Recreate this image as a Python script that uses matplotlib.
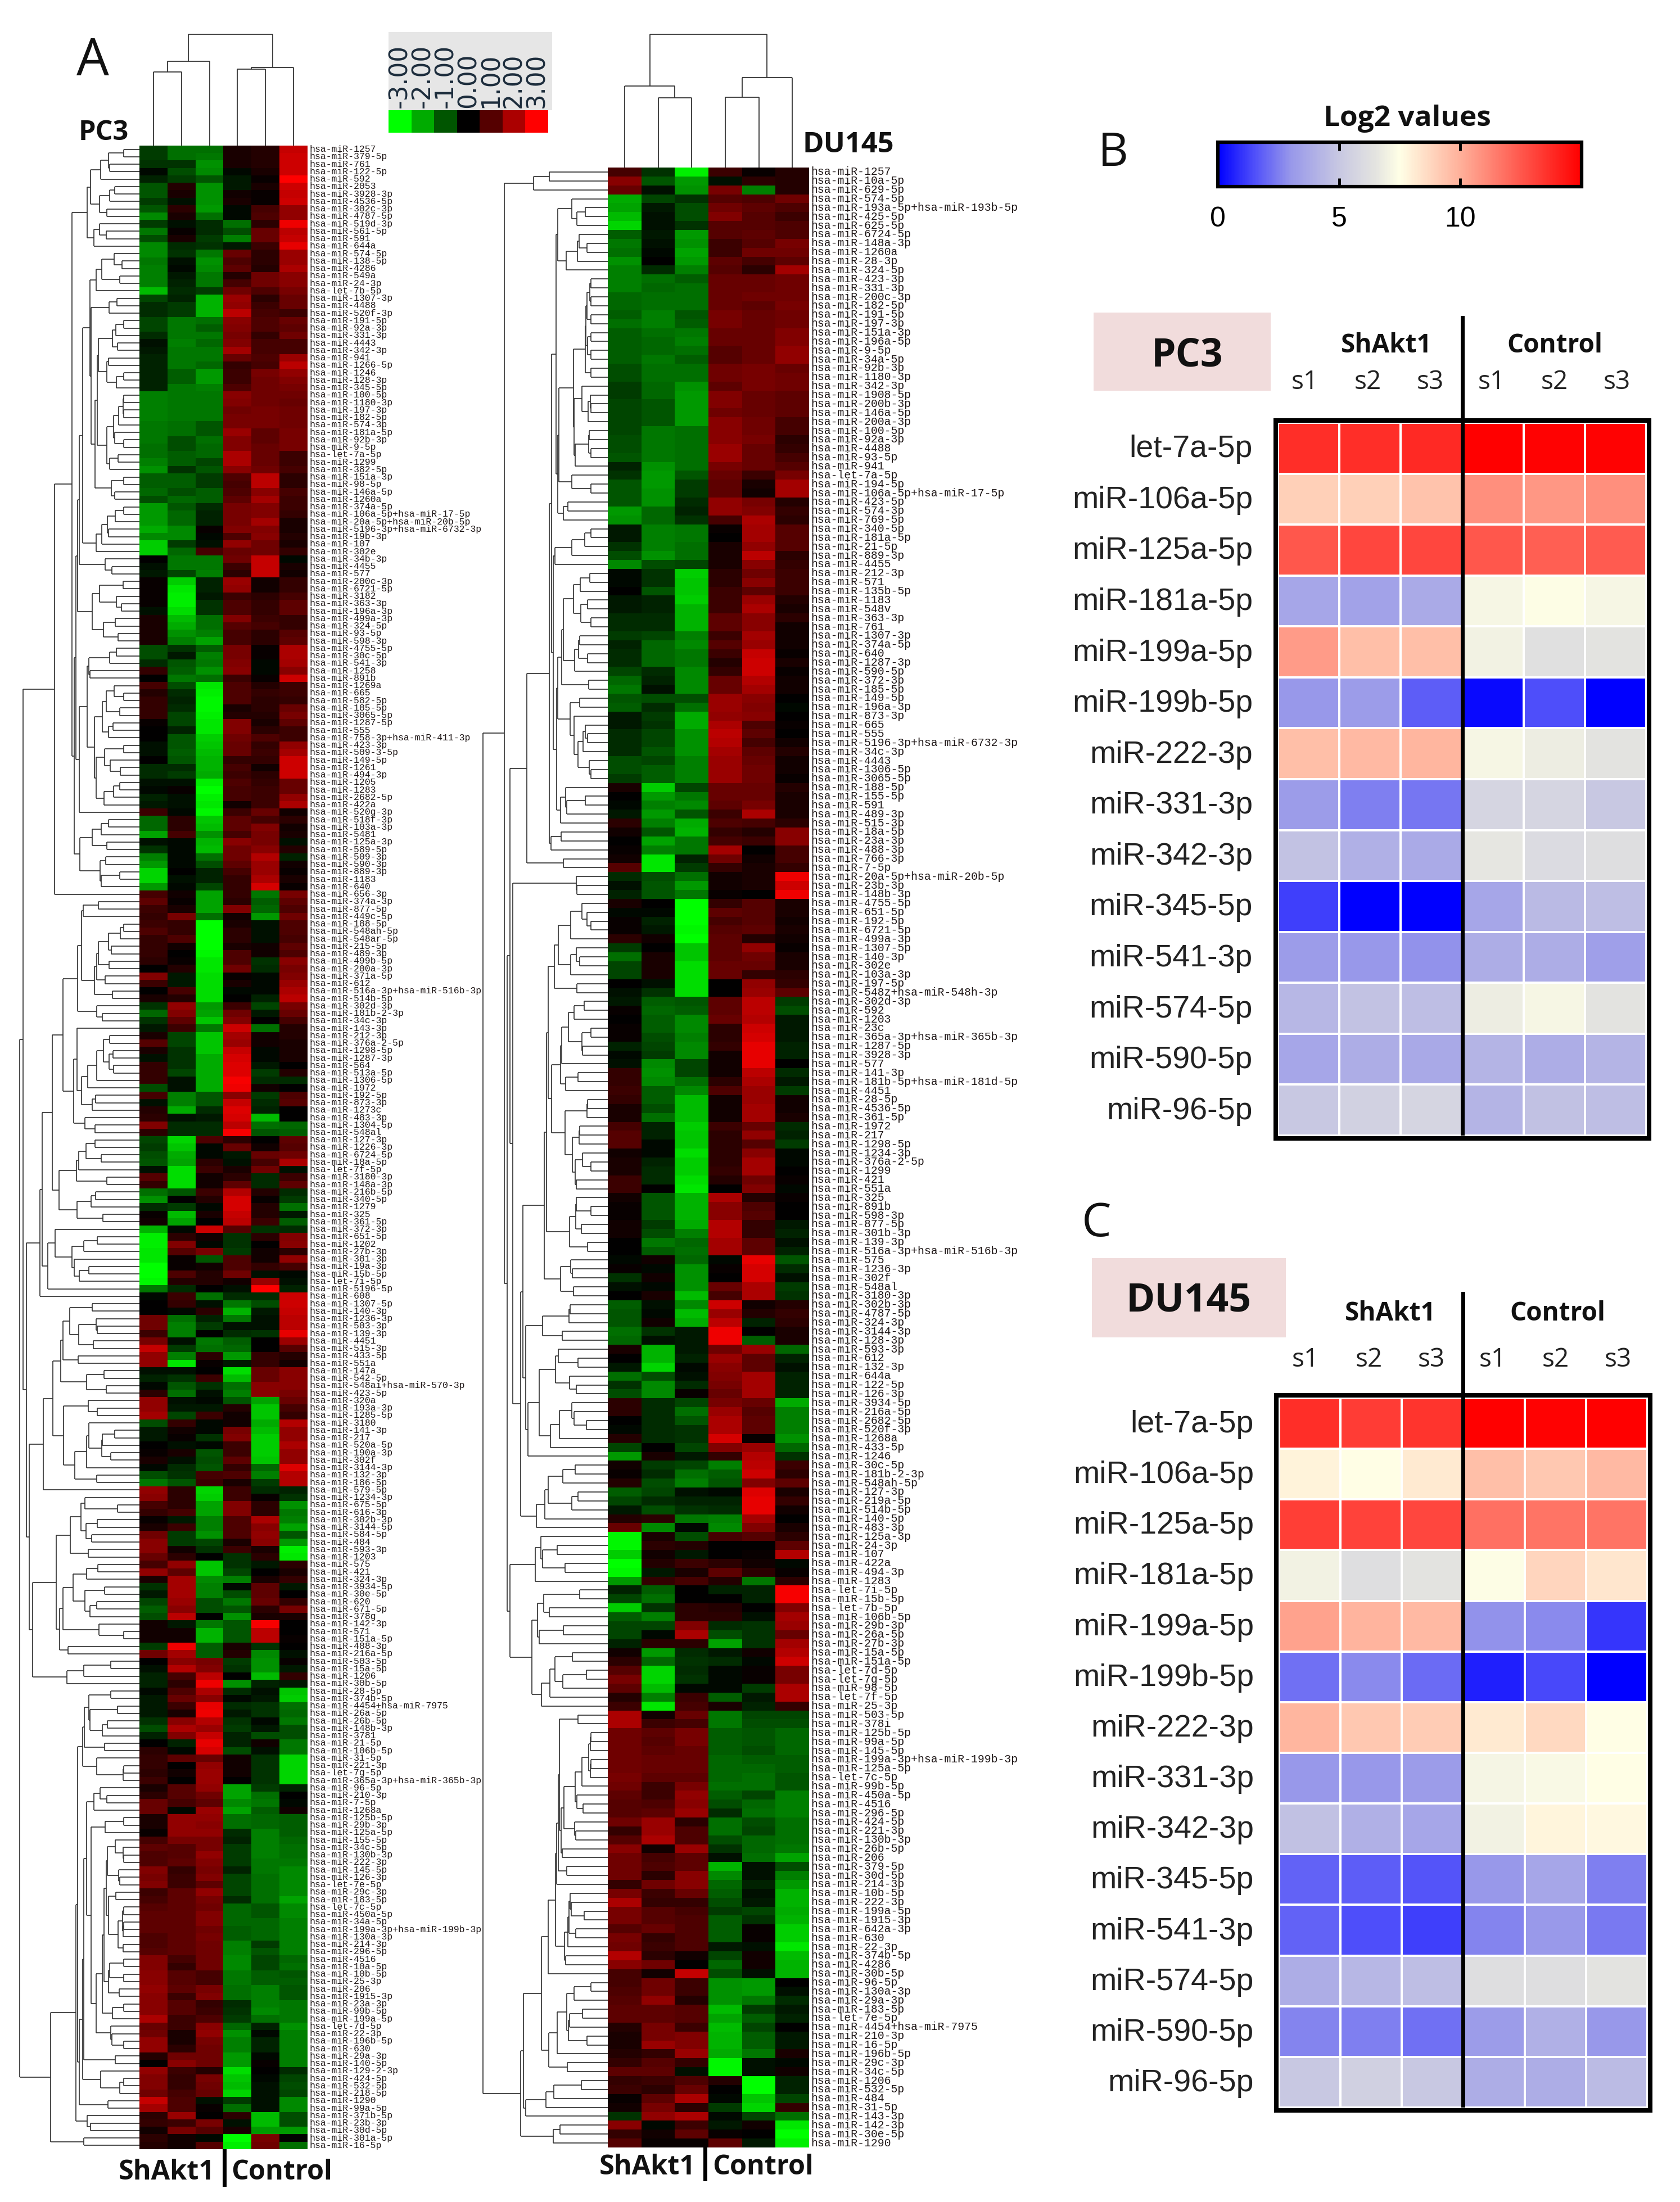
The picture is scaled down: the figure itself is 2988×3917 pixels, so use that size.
import numpy as np
import matplotlib
matplotlib.use("Agg")
import matplotlib.pyplot as plt
from matplotlib.colors import LinearSegmentedColormap, Normalize
from matplotlib.collections import LineCollection
from matplotlib.patches import Rectangle
from matplotlib.cm import ScalarMappable

W, H = 2988, 3917

pc3_labels = """1257 379-5p 761 122-5p 592 2053 3928-3p 4536-5p 302c-3p 4787-5p 519d-3p 561-5p 591 644a 574-5p 138-5p 4286 549a 24-3p let-7b-5p
1307-3p 4488 520f-3p 191-5p 92a-3p 331-3p 4443 342-3p 941 1266-5p 1246 128-3p 345-5p 100-5p 1180-3p 197-3p 182-5p 574-3p 181a-5p 92b-3p
9-5p let-7a-5p 1299 382-5p 151a-3p 98-5p 146a-5p 1260a 374a-5p 106a-5p+hsa-miR-17-5p 20a-5p+hsa-miR-20b-5p 5196-3p+hsa-miR-6732-3p 19b-3p 107 302e 34b-3p 4455 577 200c-3p 6721-5p
3182 363-3p 196a-3p 499a-3p 324-5p 93-5p 598-3p 4755-5p 30c-5p 541-3p 1258 891b 1269a 665 582-5p 185-5p 3065-5p 1287-5p 555 758-3p+hsa-miR-411-3p
423-3p 509-3-5p 149-5p 1261 494-3p 1205 1283 2682-5p 422a 520g-3p 518f-3p 103a-3p 5481 125a-3p 589-5p 509-3p 590-3p 889-3p 1183 640
656-3p 374a-3p 877-5p 449c-5p 188-5p 548ah-5p 548ar-5p 215-5p 489-3p 499b-5p 200a-3p 371a-5p 612 516a-3p+hsa-miR-516b-3p 514b-5p 302d-3p 181b-2-3p 34c-3p 143-3p 212-3p
376a-2-5p 1298-5p 1287-3p 564 513a-5p 1306-5p 1972 192-5p 873-3p 1273c 483-3p 1304-5p 548al 127-3p 1226-3p 6724-5p 18a-5p let-7f-5p 3180-3p 148a-3p
216b-5p 340-5p 1279 325 361-5p 372-3p 651-5p 1202 27b-3p 381-3p 19a-3p 15b-5p let-7i-5p 5196-5p 608 1307-5p 140-3p 1236-3p 503-3p 139-3p
4451 515-3p 433-5p 551a 147a 542-5p 548ai+hsa-miR-570-3p 423-5p 320a 193a-3p 1285-5p 3180 141-3p 217 520a-5p 190a-3p 302f 3144-3p 132-3p 186-5p
579-5p 1234-3p 675-5p 616-3p 302b-3p 3144-5p 584-5p 484 593-3p 1203 575 421 324-3p 3934-5p 30e-5p 620 671-5p 378g 142-3p 571
151a-5p 488-3p 216a-5p 503-5p 15a-5p 1206 30b-5p 28-5p 374b-5p 4454+hsa-miR-7975 26a-5p 26b-5p 148b-3p 3781 21-5p 106b-5p 31-5p 221-3p let-7g-5p 365a-3p+hsa-miR-365b-3p
96-5p 210-3p 7-5p 1268a 125b-5p 29b-3p 125a-5p 155-5p 34c-5p 130b-3p 222-3p 145-5p 126-3p let-7e-5p 29c-3p 183-5p let-7c-5p 450a-5p 34a-5p 199a-3p+hsa-miR-199b-3p
130a-3p 214-3p 296-5p 4516 10a-5p 10b-5p 25-3p 206 1915-3p 23a-3p 99b-5p 199a-5p let-7d-5p 22-3p 196b-5p 630 29a-3p 140-5p 129-2-3p 424-5p
532-5p 218-5p 1290 99a-5p 371b-5p 23b-3p 30d-5p 301a-5p 16-5p""".split()

pc3_values = [
[-7,-13,-13,3,4,23],[-7,-13,-14,3,4,24],[-6,-6,-17,3,4,24],[-1,-9,-16,-1,3,24],[-4,-7,-10,-3,1,30],[-10,4,-17,-3,3,24],[-10,3,-17,2,1,23],[-7,-2,-17,3,1,24],[-10,5,-18,-1,8,17],[-16,3,-13,-1,9,17],
[-7,-2,-5,-13,5,28],[-14,1,-5,-9,12,22],[-9,3,-7,-15,12,23],[-16,-5,-6,-3,7,27],[-16,-6,-14,12,5,18],[-14,-2,-17,9,5,18],[-15,-1,-16,11,4,20],[-15,-3,-14,4,13,16],[-15,-4,-14,8,13,16],[-22,-5,-7,13,9,14],
[-8,-4,-21,18,5,12],[-5,-7,-21,17,7,12],[-5,-7,-21,22,8,7],[-8,-14,-13,16,9,12],[-8,-14,-11,15,9,11],[-5,-14,-14,14,6,13],[-2,-15,-12,15,8,8],[-3,-14,-14,19,8,8],[-4,-14,-14,12,9,18],[-4,-14,-12,6,8,22],
[-4,-11,-18,7,14,17],[-4,-11,-18,7,13,15],[-4,-14,-15,9,13,14],[-15,-14,-14,16,13,13],[-15,-14,-14,15,13,12],[-15,-14,-14,13,14,13],[-15,-14,-14,14,14,13],[-14,-13,-10,14,14,13],[-14,-13,-10,18,11,14],[-14,-9,-13,15,11,14],
[-13,-9,-12,15,12,14],[-13,-11,-12,20,12,7],[-15,-11,-8,20,12,7],[-17,-6,-10,16,13,8],[-11,-11,-7,9,22,5],[-11,-11,-7,8,22,5],[-12,-9,-11,9,16,8],[-9,-12,-11,11,19,7],[-18,-10,-5,14,15,7],[-18,-12,-4,14,15,6],
[-18,-12,-4,14,19,3],[-20,-16,1,15,15,3],[-16,-16,-1,9,16,4],[-24,-7,-2,17,13,3],[-24,-12,8,12,13,6],[0,-14,-14,13,23,-1],[-2,-14,-14,7,23,3],[-3,-8,-15,5,23,2],[1,-24,-4,18,2,6],[1,-27,-4,17,2,6],
[1,-28,-3,7,5,8],[1,-28,-6,9,6,11],[-2,-26,-6,9,6,11],[3,-22,-13,15,7,6],[3,-20,-13,10,8,6],[3,-17,-15,8,5,10],[3,-15,-19,8,5,11],[-9,-6,-11,14,1,20],[-9,-3,-15,14,1,20],[-5,-10,-14,15,-1,19],
[6,-11,-17,16,-1,16],[0,-14,-13,7,1,24],[8,-9,-27,9,4,7],[4,-5,-28,9,6,7],[6,-4,-29,9,5,6],[6,-5,-29,3,5,12],[6,-8,-28,4,4,14],[1,-8,-27,15,3,11],[0,-4,-27,15,5,7],[0,-10,-24,13,9,7],
[-2,-10,-23,12,6,17],[-2,-11,-22,12,7,19],[0,-10,-21,6,6,24],[-5,-5,-21,8,2,24],[-5,-7,-20,7,5,24],[-2,-2,-28,9,6,12],[-1,1,-30,8,7,12],[-4,-2,-28,8,7,17],[-3,-2,-27,2,7,20],[7,-1,-29,7,12,2],
[-12,5,-23,11,8,5],[-12,5,-22,11,15,2],[-19,8,-17,8,14,3],[-2,-1,-21,16,14,-2],[-6,-1,-22,13,16,4],[-15,-1,-13,13,21,-4],[-18,-1,-9,11,18,2],[-25,0,-4,8,18,1],[-25,-2,-4,6,20,3],[-18,-1,-8,6,25,1],
[8,2,-19,6,-14,14],[11,1,-19,5,-11,11],[7,3,-19,15,-12,9],[6,14,-13,2,-18,13],[7,6,-30,3,-2,9],[9,6,-30,5,-2,9],[6,9,-30,5,-2,8],[6,2,-30,3,2,11],[6,0,-29,9,2,9],[5,1,-27,9,-6,16],
[0,4,-27,13,-5,14],[15,-3,-26,1,-1,15],[7,-3,-26,3,-1,18],[0,8,-26,-1,-1,20],[3,4,-26,0,-4,22],[-6,17,-18,7,-8,14],[-12,15,-19,13,-3,12],[-6,11,-23,15,0,8],[-3,7,-14,24,-13,4],[3,-8,-23,19,2,4],
[10,-8,-23,18,2,3],[3,-6,-23,23,-1,3],[-2,-6,-20,25,-1,3],[6,-6,-20,26,-3,0],[6,-8,-20,26,-7,4],[6,-2,-20,29,-5,-5],[-9,-2,-20,28,2,0],[8,-15,-10,16,-7,9],[-2,-15,-10,23,-5,10],[4,-20,-5,26,-4,0],
[5,-2,-3,25,-22,0],[15,-5,-5,22,-13,-12],[5,-5,-5,29,-10,-11],[-8,-25,9,5,0,11],[-7,-23,-1,12,2,10],[-9,-20,-1,-3,12,13],[-10,-19,5,-2,8,20],[-2,-26,7,3,13,-2],[10,-26,2,5,-5,7],[6,-26,2,11,-5,11],
[-13,-10,7,21,4,-5],[-17,0,4,25,1,-7],[-5,-7,-1,25,4,-13],[1,-22,3,23,4,-3],[2,-19,0,22,7,-11],[-21,-1,24,10,-6,-5],[-28,5,2,-6,5,15],[-28,15,-1,-6,0,16],[-27,10,14,-7,2,5],[-27,1,-10,9,2,17],
[-30,1,2,9,6,8],[-30,9,4,13,-2,-1],[-29,4,4,2,18,-2],[-14,-5,0,-2,30,-4],[-1,7,-13,-5,-5,24],[0,6,-2,-14,-9,24],[0,-1,5,-21,-3,23],[13,-13,-4,-14,-2,22],[13,-15,-7,-2,-2,22],[7,-15,0,-5,-6,27],
[14,-2,-14,-11,0,18],[23,-7,-13,-12,0,10],[17,-15,5,-18,6,4],[17,-27,1,-3,6,2],[-2,-2,0,-26,12,16],[-4,-6,7,-22,12,16],[-1,-10,-6,-13,16,16],[5,-13,-2,-15,16,14],[17,-2,-1,-10,-19,12],[17,-3,-3,4,-23,8],
[19,-8,7,2,-23,6],[-9,6,-1,2,-20,21],[-3,2,-1,14,-22,17],[-3,1,-6,15,-24,17],[0,-2,-1,7,-24,20],[1,3,-10,7,-24,17],[3,-2,-9,11,-23,17],[-1,-5,-10,6,-12,26],[-9,-6,8,9,-15,21],[-14,-10,7,3,-7,21],
[17,5,-25,7,-5,-4],[16,5,-24,7,1,-6],[8,5,-19,15,5,-17],[6,8,-19,15,5,-14],[1,-3,-15,9,20,-15],[3,7,-15,9,16,-19],[13,-7,-17,9,17,-10],[16,-7,-8,3,16,-18],[16,2,-6,7,3,-28],[12,5,0,-6,5,-27],
[8,17,-23,-6,-3,5],[17,11,-23,-8,0,3],[3,19,-16,-15,3,6],[-6,19,-15,-1,11,-3],[-3,19,-15,-9,11,0],[-8,18,-9,-14,12,6],[-11,16,-9,-10,5,14],[-9,22,0,-17,3,3],[2,-3,-14,-10,29,0],[2,2,-21,-10,22,0],
[2,2,-21,-10,22,1],[-7,28,-11,3,-6,0],[13,19,-11,4,-16,-2],[0,16,14,-7,-17,1],[-2,21,15,-6,-17,-3],[-4,8,22,0,-22,6],[-4,5,28,-17,-4,-3],[-1,9,20,-5,-2,-23],[-3,12,16,-1,-3,-24],[-3,7,27,-5,-6,-13],
[-3,3,28,-3,-6,-12],[-6,16,21,-6,-1,-14],[-9,20,18,-7,-3,-9],[-4,15,23,-4,-9,-9],[0,-4,27,-4,2,-14],[5,-1,25,-9,-2,-14],[6,11,12,2,-6,-25],[6,0,17,2,-6,-25],[5,2,18,2,-6,-25],[7,0,18,0,-6,-25],
[3,10,17,-19,-7,-4],[5,10,13,-19,-13,0],[12,8,11,-16,-14,-1],[12,-1,18,-19,-11,2],[3,17,17,-13,-12,-11],[3,17,16,-13,-12,-11],[1,17,17,-5,-15,-11],[8,14,14,-4,-15,-12],[11,10,14,-7,-15,-13],[9,10,17,-7,-15,-13],
[9,11,15,-7,-14,-14],[15,6,14,-4,-14,-16],[14,7,15,-8,-13,-16],[15,7,11,-8,-13,-16],[7,11,17,-8,-13,-16],[8,11,14,-5,-13,-19],[10,11,13,-12,-10,-16],[11,11,15,-12,-10,-16],[11,11,15,-12,-12,-15],[11,11,13,-11,-12,-15],
[9,11,14,-11,-12,-15],[9,11,13,-15,-7,-15],[10,11,13,-15,-10,-15],[15,8,13,-16,-8,-12],[15,6,13,-16,-8,-13],[16,10,8,-14,-11,-10],[16,10,8,-14,-11,-11],[17,11,14,-13,-15,-10],[16,7,15,-13,-15,-10],[16,10,6,-5,-15,-14],
[16,10,7,-6,-16,-14],[20,7,9,-7,-13,-14],[12,7,16,-12,-4,-17],[13,3,17,-17,-1,-15],[17,3,14,-15,-4,-15],[17,5,13,-15,-4,-15],[4,13,13,-18,-1,-15],[0,16,13,-18,1,-15],[17,7,4,-26,0,-5],[15,6,14,-23,-1,-8],
[15,6,13,-22,-2,-9],[13,8,12,-25,-2,-8],[23,9,-2,-7,-2,-16],[19,9,1,-13,-2,-16],[5,18,0,5,-22,-9],[6,7,14,-2,-22,-9],[2,14,10,3,-18,-18],[5,2,-1,-30,14,0],[4,2,10,-28,13,-13],
]

du_labels = """1257 10a-5p 629-5p 574-5p 193a-5p+hsa-miR-193b-5p 425-5p 625-5p 6724-5p 148a-3p 1260a 28-3p 324-5p 423-3p 331-3p 200c-3p 182-5p 191-5p 197-3p 151a-3p 196a-5p
9-5p 34a-5p 92b-3p 1180-3p 342-3p 1908-5p 200b-3p 146a-5p 200a-3p 100-5p 92a-3p 4488 93-5p 941 let-7a-5p 194-5p 106a-5p+hsa-miR-17-5p 423-5p 574-3p 769-5p
340-5p 181a-5p 21-5p 889-3p 4455 212-3p 571 135b-5p 1183 548v 363-3p 761 1307-3p 374a-5p 640 1287-3p 590-5p 372-3p 185-5p 149-5p
196a-3p 873-3p 665 555 5196-3p+hsa-miR-6732-3p 34c-3p 4443 1306-5p 3065-5p 188-5p 155-5p 591 489-3p 515-3p 18a-5p 23a-3p 488-3p 766-3p 7-5p 20a-5p+hsa-miR-20b-5p
23b-3p 148b-3p 4755-5p 651-5p 192-5p 6721-5p 499a-3p 1307-5p 140-3p 302e 103a-3p 197-5p 548z+hsa-miR-548h-3p 302d-3p 592 1203 23c 365a-3p+hsa-miR-365b-3p 1287-5p 3928-3p
577 141-3p 181b-5p+hsa-miR-181d-5p 4451 28-5p 4536-5p 361-5p 1972 217 1298-5p 1234-3p 376a-2-5p 1299 421 551a 325 891b 598-3p 877-5p 301b-3p
139-3p 516a-3p+hsa-miR-516b-3p 575 1236-3p 302f 548al 3180-3p 302b-3p 4787-5p 324-3p 3144-3p 128-3p 593-3p 612 132-3p 644a 122-5p 126-3p 3934-5p 216a-5p
2682-5p 520f-3p 1268a 433-5p 1246 30c-5p 181b-2-3p 548ah-5p 127-3p 219a-5p 514b-5p 140-5p 483-3p 125a-3p 24-3p 107 422a 494-3p 1283 let-7i-5p
15b-5p let-7b-5p 106b-5p 29b-3p 26a-5p 27b-3p 15a-5p 151a-5p let-7d-5p let-7g-5p 98-5p let-7f-5p 25-3p 503-5p 378i 125b-5p 99a-5p 145-5p 199a-3p+hsa-miR-199b-3p 125a-5p
let-7c-5p 99b-5p 450a-5p 4516 296-5p 424-5p 221-3p 130b-3p 26b-5p 206 379-5p 30d-5p 214-3p 10b-5p 222-3p 199a-5p 1915-3p 642a-3p 630 22-3p
374b-5p 4286 30b-5p 96-5p 130a-3p 29a-3p 183-5p let-7e-5p 4454+hsa-miR-7975 210-3p 16-5p 196b-5p 29c-3p 34c-5p 1206 532-5p 484 31-5p 143-3p 142-3p
30e-5p 1290""".split()

du_values = [
[8,-6,-28,7,1,4],[16,-10,-18,-2,5,4],[12,-2,-17,14,-15,4],[-20,-8,-6,10,9,13],[-19,-3,-9,13,11,9],[-22,-2,-9,15,10,7],[-25,-2,-6,10,10,9],[-11,-3,-18,10,11,9],[-14,-2,-17,7,10,14],[-13,-1,-19,7,13,13],
[-17,0,-18,11,8,11],[-15,-5,-15,10,5,19],[-15,-13,-11,12,12,13],[-15,-12,-13,12,12,13],[-12,-13,-13,12,13,13],[-12,-13,-13,12,11,14],[-11,-15,-10,14,12,13],[-13,-15,-11,14,12,13],[-11,-13,-14,12,12,15],[-11,-12,-15,12,12,15],
[-11,-12,-13,10,12,17],[-11,-14,-11,10,12,17],[-9,-13,-13,13,14,12],[-9,-13,-13,13,14,13],[-7,-12,-17,11,14,13],[-7,-12,-18,15,12,11],[-8,-10,-18,15,12,11],[-8,-10,-18,13,12,11],[-8,-10,-18,16,13,8],[-8,-14,-13,16,13,8],
[-9,-14,-13,16,14,5],[-9,-14,-13,18,12,6],[-10,-14,-13,18,12,8],[-4,-17,-13,14,12,10],[-6,-18,-10,12,7,14],[-10,-18,-7,11,3,19],[-10,-17,-7,11,2,19],[-10,-17,-5,17,14,4],[-18,-12,-4,17,15,6],[-17,-12,-6,8,20,5],
[-3,-15,-14,1,19,10],[-3,-15,-14,0,19,10],[-6,-15,-13,3,17,10],[-9,-17,-13,3,22,5],[-16,-9,-8,3,16,6],[-1,-6,-24,5,13,7],[-1,-6,-23,5,16,7],[0,-10,-23,7,11,7],[-3,-4,-24,7,18,4],[-3,-4,-21,7,20,3],
[-5,-5,-21,11,16,5],[-5,-5,-21,11,16,2],[-7,-8,-15,7,19,2],[-4,-12,-16,10,18,2],[-5,-12,-14,7,23,1],[-5,-12,-14,4,24,3],[-8,-5,-16,6,24,1],[-12,-4,-16,12,21,2],[-14,-2,-16,12,19,2],[-10,-9,-9,18,16,0],
[-11,-5,-13,18,15,-1],[-3,-7,-20,17,16,0],[-3,-6,-20,20,9,1],[-5,-8,-17,22,11,0],[-5,-8,-17,21,8,2],[-5,-10,-17,19,11,4],[-9,-8,-15,18,12,2],[-9,-11,-15,18,13,2],[-7,-11,-15,18,13,1],[3,-24,-8,12,12,4],
[0,-18,-14,12,12,3],[-1,-15,-16,11,14,3],[-3,-18,-10,7,20,3],[5,-15,-20,9,8,5],[2,-10,-21,6,4,16],[0,-19,-14,8,7,16],[1,-15,-14,19,0,8],[2,-27,-4,13,2,8],[10,-27,-7,6,3,6],[-5,-9,-13,2,3,28],
[-2,-10,-18,2,3,24],[-4,-10,-14,1,0,28],[3,0,-30,6,10,3],[-1,-1,-30,11,10,3],[1,-4,-30,8,10,2],[1,-3,-29,10,11,3],[5,2,-30,11,4,2],[-7,0,-23,11,17,1],[-13,3,-23,11,13,3],[-8,3,-26,12,12,3],
[-8,3,-26,12,6,5],[0,-2,-26,0,17,6],[-2,-6,-26,0,18,11],[-3,-11,-10,11,22,-7],[1,-12,-11,11,22,-9],[0,-11,-16,12,21,-3],[1,-11,-16,5,24,-3],[1,-9,-15,5,25,-3],[-4,-8,-16,6,27,-4],[-1,-7,-16,2,27,-4],
[-2,-16,-8,2,27,0],[6,-17,-8,2,22,-5],[6,-16,-13,5,20,-3],[7,-11,-16,9,18,-7],[6,-11,-22,2,18,2],[3,-9,-22,2,19,2],[3,-13,-22,2,19,3],[8,-4,-24,7,12,-5],[10,-4,-23,5,17,-4],[10,-1,-23,5,10,-7],
[2,-1,-26,5,16,-1],[3,-4,-24,5,19,-1],[3,-5,-24,6,19,0],[7,-5,-26,4,13,1],[7,0,-27,0,15,-1],[2,-10,-21,20,4,1],[1,-10,-21,16,9,0],[1,-10,-21,16,10,0],[2,-7,-20,21,6,-3],[2,-9,-15,21,6,-4],
[0,-14,-12,19,11,-2],[0,-11,-13,19,11,-4],[-1,2,-12,-1,27,-10],[1,-1,-17,1,25,-5],[-6,2,-17,0,25,-2],[-2,-1,-17,12,20,-7],[0,3,-22,8,20,-6],[-11,-2,-16,24,2,4],[-10,-1,-22,18,4,6],[-10,2,-20,22,-4,5],
[-13,-6,-3,28,0,3],[-12,-2,-3,28,-11,3],[3,-21,-3,13,18,-12],[0,-21,-4,18,11,-4],[-3,-25,-1,16,11,-2],[-13,-9,-2,15,19,-4],[-6,-16,-5,14,19,-4],[-9,-16,1,12,19,-4],[5,-5,-8,14,12,-20],[5,-5,-13,18,10,-15],
[0,-5,-10,20,11,-15],[-1,-5,-6,20,11,-15],[4,-5,-6,25,1,-17],[-8,0,-8,15,18,-12],[-18,3,-3,6,21,-6],[2,-7,-8,-15,22,7],[1,-5,-13,-11,24,5],[4,-9,-15,-10,15,11],[-11,-8,-2,-1,26,3],[-8,-5,-4,-4,27,6],
[-3,-9,-6,-5,27,2],[4,5,-14,-15,19,0],[12,-16,-1,-16,15,3],[-29,3,-9,8,10,5],[-29,5,4,0,0,11],[-24,2,-3,0,1,21],[-30,4,7,5,2,-1],[-29,-3,3,11,5,1],[-18,6,8,4,-14,5],[-4,-11,0,-4,-4,29],
[-8,-13,0,0,-4,29],[-24,-6,5,4,0,15],[-11,-15,5,5,-2,19],[-8,-8,15,-5,-6,18],[-8,-1,20,-9,-6,12],[-4,5,5,-19,-6,19],[2,-18,-5,-3,2,21],[5,-12,-6,-5,-1,24],[10,-25,-5,-1,1,14],[14,-25,-6,-1,1,14],
[11,-22,-1,-1,-7,20],[4,-15,7,-11,-3,20],[7,-27,8,3,-4,6],[20,2,12,-14,-8,-8],[20,7,8,-14,-9,-9],[13,11,14,-11,-10,-12],[13,10,14,-11,-10,-12],[13,11,12,-11,-9,-12],[13,12,12,-12,-11,-11],[13,12,12,-12,-12,-11],
[14,11,11,-12,-13,-10],[13,7,14,-13,-13,-10],[11,7,17,-11,-8,-15],[10,9,16,-9,-12,-15],[10,11,18,-5,-13,-15],[13,18,5,-13,-9,-13],[6,18,9,-13,-8,-13],[10,20,9,-9,-12,-13],[16,2,18,-6,-12,-14],[13,8,11,-2,-13,-19],
[13,9,11,-21,-2,-9],[13,5,16,-16,-2,-15],[6,13,16,-12,-4,-18],[14,7,12,-11,-2,-21],[20,6,6,-9,-3,-21],[14,10,8,-7,-8,-20],[14,10,9,-11,-6,-21],[10,12,9,-11,1,-24],[14,6,9,-11,1,-24],[13,7,9,-3,-2,-27],
[21,5,2,-8,2,-22],[16,13,0,-12,2,-21],[8,2,23,-9,-2,-21],[8,13,7,-17,-18,0],[9,13,7,-17,-18,-2],[10,17,4,-17,-14,-5],[11,11,10,-22,-7,-3],[11,11,10,-19,-11,-4],[4,14,7,-22,-8,0],[3,14,15,-21,-11,-3],
[3,18,15,-21,-11,-3],[4,6,18,-20,-14,3],[6,10,6,-29,-2,-1],[11,11,-2,-29,-2,2],[6,7,9,4,-30,-4],[7,5,12,0,-30,-4],[1,11,20,-1,-23,-8],[2,14,5,-7,-25,6],[-6,17,20,-1,-8,-13],[16,-1,7,-3,2,-27],
[6,2,11,1,0,-30],[10,1,1,11,-3,-28],
]

# order in which the top clusters of each row tree join last (row index of the cut)
pc3_cuts = [207, 267, 264, 220, 101, 155, 181]
du_cuts = [173, 219, 3, 153, 214, 79]
# column trees: (left node, right node, height above the heat map)
pc3_col_merges = [(0, 1, 131), (6, 2, 150), (3, 4, 136), (8, 5, 139), (7, 9, 198)]
du_col_merges = [(1, 2, 124), (0, 6, 145), (3, 4, 125), (8, 5, 160), (7, 9, 237)]

legend_ticks = [-3, -2, -1, 0, 1, 2, 3]
samples = ["s1", "s2", "s3", "s1", "s2", "s3"]
table_mirs = ["let-7a-5p", "miR-106a-5p", "miR-125a-5p", "miR-181a-5p", "miR-199a-5p", "miR-199b-5p", "miR-222-3p",
              "miR-331-3p", "miR-342-3p", "miR-345-5p", "miR-541-3p", "miR-574-5p", "miR-590-5p", "miR-96-5p"]
table_pc3 = [[13.7,13.7,13.8,15,14.9,14.9],[9,9,9.4,10.9,10.7,10.9],[12.5,13,13,12.5,12.3,12.4],[3.6,3.4,3.8,7.2,7.4,7.2],
             [10.6,9.5,9.5,7,6.3,6.5],[3,3.2,1.8,0.2,1.5,0],[9.5,9.7,9.8,7.2,6.8,6.5],[3.2,2.5,2.3,5.7,5.7,5],
             [4.8,4,3.8,6.6,6,6.2],[1.2,0,0,3.6,4.4,4.6],[3.2,3,2.9,3.9,3.9,3.3],[4.3,4.8,4.6,6.8,7.2,6.5],
             [3.6,3.9,3.7,4.2,3.9,4.2],[5,5.5,5.7,4.2,4.7,4.6]]
table_du = [[13.7,13.3,13.5,15,14.9,15],[7.9,7.5,8.2,9.5,9.2,9.7],[13.2,13.1,13,11.8,11.7,11.7],[7,6.2,6.5,7.4,8.8,8.3],
            [10.4,9.9,9.7,2.9,2.7,1],[2.2,2.7,2.1,0.6,1.4,0],[9.8,9.2,9.1,8.2,8.7,7.5],[3,3,3.2,7.1,7.3,7.5],
            [4.7,4,3.6,7,7.8,7.7],[1.9,1.8,1.6,3,3.6,2.5],[1.9,1.5,1.2,2.6,3.1,2.4],[3.9,4.3,4.6,6.2,6.2,6.5],
            [2.6,2.5,2.2,3.2,4,3],[5,5.4,5,3.9,3.9,4.5]]

plt.rcParams['font.family'] = ['Open Sans', 'DejaVu Sans']
fig = plt.figure(figsize=(W / 100, H / 100), dpi=100, facecolor='white')

def ax_px(x0, y0, x1, y1, **kw):
    return fig.add_axes([x0 / W, 1 - y1 / H, (x1 - x0) / W, (y1 - y0) / H], **kw)

gr = LinearSegmentedColormap.from_list('gr', [(0, 1, 0), (0, 0, 0), (1, 0, 0)])
bwr = LinearSegmentedColormap.from_list('lg2', [(0, '#0000ff'), (1.5 / 15, '#5050fa'), (3 / 15, '#9898ea'),
                                                (5 / 15, '#c8c8e2'), (6.5 / 15, '#e4e4e0'),
                                                (7.5 / 15, '#ffffe6'), (10 / 15, '#ffb09a'), (1, '#ff0000')])

ov = fig.add_axes([0, 0, 1, 1], zorder=5)
ov.set_xlim(0, W); ov.set_ylim(H, 0); ov.axis('off'); ov.patch.set_alpha(0)

def full(lbl):
    return 'hsa-' + lbl if lbl.startswith('let') else 'hsa-miR-' + lbl

def row_tree(vals, cuts, x_leaf, width, top, rh, gamma=0.72):
    vals = np.asarray(vals, float)
    cl = [dict(s=i, e=i + 1, y=top + (i + .5) * rh, h=0.0, m=vals[i], n=1) for i in range(len(vals))]
    nodes = []
    rank = {c: len(cuts) - k for k, c in enumerate(cuts)}
    while len(cl) > 1:
        best, bi = None, 0
        for i in range(len(cl) - 1):
            d = np.linalg.norm(cl[i]['m'] - cl[i + 1]['m'])
            pen = rank.get(cl[i]['e'], 0) * 1e4
            if best is None or d + pen < best[0]:
                best, bi = (d + pen, d), i
        a, b = cl[bi], cl[bi + 1]
        h = max(best[1], a['h'] * 1.04, b['h'] * 1.04, 3.0)
        n = a['n'] + b['n']
        c = dict(s=a['s'], e=b['e'], y=(a['y'] + b['y']) / 2, h=h, m=(a['m'] * a['n'] + b['m'] * b['n']) / n, n=n)
        nodes.append((a['y'], a['h'], b['y'], b['h'], h))
        cl[bi:bi + 2] = [c]
    hmax = cl[0]['h']
    X = lambda v: x_leaf - width * (v / hmax) ** gamma
    segs = []
    for ya, ha, yb, hb, h in nodes:
        segs += [[(X(ha), ya), (X(h), ya)], [(X(hb), yb), (X(h), yb)], [(X(h), ya), (X(h), yb)]]
    ov.add_collection(LineCollection(segs, colors='#333333', linewidths=1.25))

def col_tree(merges, x0, cw, top):
    pos = [(x0 + (i + .5) * cw, 0.0) for i in range(6)]
    segs = []
    for a, b, h in merges:
        xa, ha = pos[a]; xb, hb = pos[b]
        segs += [[(xa, top - ha), (xa, top - h)], [(xb, top - hb), (xb, top - h)], [(xa, top - h), (xb, top - h)]]
        pos.append(((xa + xb) / 2, h))
    ov.add_collection(LineCollection(segs, colors='#333333', linewidths=1.3))

def heat(vals, labels, x0, x1, y0, y1, fs, cuts, tree_w):
    ax = ax_px(x0, y0, x1, y1)
    ax.imshow(np.array(vals), cmap=gr, vmin=-30, vmax=30, aspect='auto', interpolation='nearest')
    ax.axis('off')
    rh = (y1 - y0) / len(vals)
    row_tree(vals, cuts, x0, tree_w, y0, rh)
    for i, l in enumerate(labels):
        ov.text(x1 + 3, y0 + (i + .5) * rh, full(l), family='Liberation Mono', fontsize=fs, color='#1e1616',
                ha='left', va='center')

heat(pc3_values, pc3_labels, 248, 547, 259, 3823, 11.9, pc3_cuts, 213)
col_tree(pc3_col_merges, 248, (547 - 248) / 6, 259)
heat(du_values, du_labels, 1081, 1439, 298, 3820, 14.2, du_cuts, 222)
col_tree(du_col_merges, 1081, (1439 - 1081) / 6, 298)

# A legend
ov.add_patch(Rectangle((691, 57), 291, 139, fc='#e6e6e6', ec='none'))
lax = ax_px(691, 196, 975, 236)
lax.imshow([legend_ticks], cmap=gr, vmin=-3, vmax=3, aspect='auto', interpolation='nearest')
lax.axis('off')
for i, t in enumerate(legend_ticks):
    ov.text(691 + (i + .5) * 284 / 7, 192, '%.2f' % t, rotation=90, family='DejaVu Sans', fontsize=31.5,
            color='#1c2c3c', ha='center', va='bottom')

bold = dict(weight='bold', color='#111111')
ov.text(136, 134, 'A', fontsize=66, color='#111111', ha='left', va='baseline')
ov.text(140, 249, 'PC3', fontsize=35, ha='left', va='baseline', **bold)
ov.text(1427, 271, 'DU145', fontsize=36.5, ha='left', va='baseline', **bold)
ov.text(296, 3877, 'ShAkt1', fontsize=35, ha='center', va='baseline', **bold)
ov.text(501, 3877, 'Control', fontsize=35, ha='center', va='baseline', **bold)
ov.add_patch(Rectangle((396, 3823), 7, 67, fc='black', ec='none'))
ov.text(1151, 3868, 'ShAkt1', fontsize=35, ha='center', va='baseline', **bold)
ov.text(1357, 3868, 'Control', fontsize=35, ha='center', va='baseline', **bold)
ov.add_patch(Rectangle((1251, 3820), 7, 60, fc='black', ec='none'))

# B colour bar
ov.text(1953, 295, 'B', fontsize=60, color='#111111', ha='left', va='baseline')
ov.text(2503, 224, 'Log2 values', fontsize=37, ha='center', va='baseline', **bold)
cax = ax_px(2166, 253, 2813, 332)
cb = fig.colorbar(ScalarMappable(Normalize(0, 15), bwr), cax=cax, orientation='horizontal', ticks=[0, 5, 10])
cb.outline.set_linewidth(4.5)
cb.ax.tick_params(axis='x', direction='in', length=11, width=3.5, top=True, bottom=True, labelsize=36, pad=25)
for t in cb.ax.get_xticklabels():
    t.set_family('Liberation Sans')

def table(vals, x0, x1, y0, y1, pink, title, title_base, head_base, s_base, box, bar_top, x_lab, xs, xshak, xctl, xtitle):
    ax = ax_px(x0, y0, x1, y1)
    ax.pcolormesh(np.arange(7), np.arange(15), np.array(vals), cmap=bwr, vmin=0, vmax=15,
                  edgecolors='white', linewidth=1.6)
    ax.set_ylim(14, 0); ax.axis('off')
    ov.add_patch(Rectangle((pink[0], pink[1]), pink[2] - pink[0], pink[3] - pink[1], fc='#f1dcdc', ec='none'))
    ov.text(xtitle, title_base, title, fontsize=50, ha='center', va='baseline', **bold)
    ov.text(xshak, head_base, 'ShAkt1', fontsize=33, ha='center', va='baseline', **bold)
    ov.text(xctl, head_base, 'Control', fontsize=33, ha='center', va='baseline', **bold)
    for xx, s in zip(xs, samples):
        ov.text(xx, s_base, s, fontsize=33, color='#222222', ha='center', va='baseline')
    rh = (y1 - y0) / 14
    for i, m in enumerate(table_mirs):
        ov.text(x_lab, y0 + (i + .5) * rh + 16, m, family='Liberation Sans', fontsize=40, color='#222222',
                ha='right', va='baseline')
    ov.add_patch(Rectangle((box[0], box[1]), box[2] - box[0], box[3] - box[1], fc='none', ec='black', lw=5.8))
    mid = (box[0] + box[2]) / 2
    ov.add_patch(Rectangle((mid - 3.5, bar_top), 7, y1 - bar_top, fc='black', ec='none'))

table(table_pc3, 2273, 2928, 752, 2020, (1945, 556, 2260, 695), 'PC3', 652, 627, 692,
      (2269, 748, 2933, 2025), 562, 2228, [2321, 2433, 2544, 2653, 2765, 2876], 2466, 2765, 2112)
ov.text(1924, 2199, 'C', fontsize=60, color='#111111', ha='left', va='baseline')
table(table_du, 2275, 2930, 2487, 3749, (1942, 2238, 2287, 2379), 'DU145', 2334, 2349, 2431,
      (2270, 2482, 2935, 3754), 2298, 2230, [2322, 2435, 2546, 2655, 2767, 2878], 2473, 2770, 2114)

fig.savefig('out.png', dpi=100, facecolor='white')
